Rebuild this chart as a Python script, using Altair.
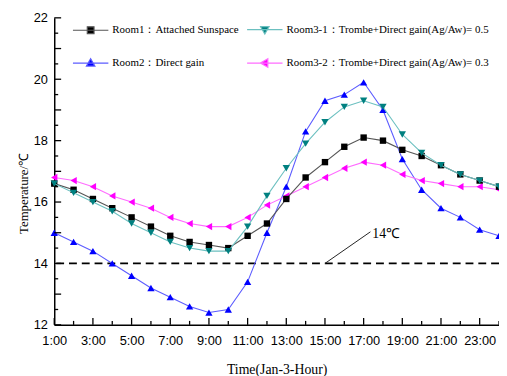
import altair as alt
import pandas as pd

# ---------------- data ----------------
hours = list(range(1, 25))
room1 = [16.6, 16.4, 16.1, 15.8, 15.5, 15.2, 14.9, 14.7, 14.6, 14.5, 14.9, 15.3,
         16.1, 16.8, 17.3, 17.8, 18.1, 18.0, 17.7, 17.5, 17.2, 16.9, 16.7, 16.5]
room2 = [15.0, 14.7, 14.4, 14.0, 13.6, 13.2, 12.9, 12.6, 12.4, 12.5, 13.4, 15.0,
         16.5, 18.3, 19.3, 19.5, 19.9, 19.0, 17.4, 16.4, 15.8, 15.5, 15.1, 14.9]
room3_1 = [16.6, 16.3, 16.0, 15.7, 15.3, 15.0, 14.7, 14.5, 14.4, 14.4, 15.2, 16.2,
           17.1, 17.9, 18.6, 19.1, 19.3, 19.1, 18.2, 17.6, 17.2, 16.9, 16.7, 16.5]
room3_2 = [16.8, 16.7, 16.5, 16.2, 16.0, 15.8, 15.5, 15.3, 15.2, 15.2, 15.5, 15.9,
           16.2, 16.5, 16.8, 17.1, 17.3, 17.2, 16.9, 16.7, 16.6, 16.5, 16.5, 16.4]

series_names = ["Room1：Attached Sunspace",
                "Room2：Direct gain",
                "Room3-1：Trombe+Direct gain(Ag/Aw)= 0.5",
                "Room3-2：Trombe+Direct gain(Ag/Aw)= 0.3"]
series_values = [room1, room2, room3_1, room3_2]
draw_order = [1, 3, 0, 2]  # Room2, Room3-2, Room1, Room3-1

marker_colors = ["#000000", "#0000ff", "#008080", "#ff00ff"]
line_colors = ["#555555", "#5c5cff", "#6cc0c0", "#ff6cff"]
marker_shapes = ["square", "triangle-up", "triangle-down", "triangle-left"]
marker_sizes = [42, 55, 55, 55]
legend_paths = [
    "M-1,0H1M-0.19,-0.19H0.19V0.19H-0.19Z",
    "M-1,0H1M0,-0.25L0.24,0.17H-0.24Z",
    "M-1,0H1M-0.24,-0.17H0.24L0,0.25Z",
    "M-1,0H1M-0.25,0L0.17,-0.24V0.24Z",
]

x_tick_major = list(range(1, 24, 2))
x_tick_minor = list(range(2, 25, 2))
y_tick_major = list(range(12, 23))
y_tick_minor = [v + 0.5 for v in range(12, 22)]

threshold = [14]
threshold_label = ["14℃"]
pointer_x = [15.0]
pointer_y = [14.0]
pointer_x2 = [17.35]
pointer_y2 = [15.03]
label_x = [17.45]
label_y = [14.97]

# ---------------- tables ----------------
rows = []
for k, (name, vals) in enumerate(zip(series_names, series_values)):
    for h, v in zip(hours, vals):
        rows.append({"sid": k, "series": name, "hour": h, "temp": v})
df = pd.DataFrame(rows)

xscale = alt.Scale(domain=[1, 24], nice=False, zero=False)
yscale = alt.Scale(domain=[12, 22], nice=False, zero=False)

x_axis = alt.Axis(values=x_tick_major, labelExpr="datum.value + ':00'", ticks=False,
                  grid=False, labelFlush=False, labelOverlap=False,
                  title="Time(Jan-3-Hour)", labelPadding=10, titlePadding=15)
y_axis = alt.Axis(values=y_tick_major, ticks=False, grid=False, format="d",
                  title="Temperature/℃", labelPadding=7, labelFlush=False,
                  titleX=-31, titleY=178, titleAngle=270, titleBaseline="middle",
                  titleAlign="center", titleFontSize=13)

layers = []

# threshold dashed line
thr = alt.Chart(pd.DataFrame({"v": threshold})).mark_rule(
    color="black", strokeDash=[8, 5], strokeWidth=1.8
).encode(y=alt.Y("v:Q", scale=yscale, axis=y_axis))
layers.append(thr)

# pointer + label
ptr = alt.Chart(pd.DataFrame({"x": pointer_x, "y": pointer_y, "x2": pointer_x2, "y2": pointer_y2})).mark_rule(
    color="#222222", strokeWidth=1
).encode(x=alt.X("x:Q", scale=xscale, axis=x_axis), y=alt.Y("y:Q", scale=yscale), x2="x2:Q", y2="y2:Q")
layers.append(ptr)
lbl = alt.Chart(pd.DataFrame({"x": label_x, "y": label_y, "t": threshold_label})).mark_text(
    align="left", baseline="middle", font="Liberation Serif", fontSize=14, color="black"
).encode(x=alt.X("x:Q", scale=xscale), y=alt.Y("y:Q", scale=yscale), text="t:N")
layers.append(lbl)

# series
for k in draw_order:
    base = alt.Chart(df).transform_filter(alt.datum.sid == k)
    ln = base.mark_line(color=line_colors[k], strokeWidth=1.1).encode(
        x=alt.X("hour:Q", scale=xscale), y=alt.Y("temp:Q", scale=yscale))
    pt = base.mark_point(shape=marker_shapes[k], filled=True, size=marker_sizes[k],
                         color=marker_colors[k], opacity=1).encode(
        x=alt.X("hour:Q", scale=xscale), y=alt.Y("temp:Q", scale=yscale))
    layers += [ln, pt]

# inward ticks
tick_style = dict(color="black", strokeWidth=1.3)
layers.append(alt.Chart(pd.DataFrame({"h": x_tick_major})).mark_rule(**tick_style).encode(
    x=alt.X("h:Q", scale=xscale), y=alt.value(312), y2=alt.value(305)))
layers.append(alt.Chart(pd.DataFrame({"h": x_tick_minor})).mark_rule(**tick_style).encode(
    x=alt.X("h:Q", scale=xscale), y=alt.value(312), y2=alt.value(308)))
layers.append(alt.Chart(pd.DataFrame({"t": y_tick_major})).mark_rule(**tick_style).encode(
    y=alt.Y("t:Q", scale=yscale), x=alt.value(0), x2=alt.value(7)))
layers.append(alt.Chart(pd.DataFrame({"t": y_tick_minor})).mark_rule(**tick_style).encode(
    y=alt.Y("t:Q", scale=yscale), x=alt.value(0), x2=alt.value(4)))

# legend (off-canvas marks carrying the legend)
leg = alt.Legend(title=None, orient="none", legendX=18, legendY=-7, columns=2,
                 symbolSize=1296, symbolStrokeWidth=1.2, labelFont="Liberation Serif",
                 labelFontSize=11.1, labelColor="black", labelOffset=3, columnPadding=5,
                 rowPadding=8, padding=0, labelLimit=400, symbolOpacity=1)
legdf = pd.DataFrame({"series": series_names})
legend_layer = alt.Chart(legdf).mark_point(filled=True, opacity=1, strokeWidth=1.2).encode(
    x=alt.value(-400), y=alt.value(-400),
    fill=alt.Fill("series:N", scale=alt.Scale(domain=series_names, range=marker_colors), legend=leg),
    stroke=alt.Stroke("series:N", scale=alt.Scale(domain=series_names, range=line_colors), legend=leg),
    shape=alt.Shape("series:N", scale=alt.Scale(domain=series_names, range=legend_paths), legend=leg),
)
layers.append(legend_layer)

chart = alt.layer(*layers).properties(
    width=452, height=312,
    autosize=alt.AutoSizeParams(type="none"),
    padding={"left": 47, "top": 7, "right": 0, "bottom": 49},
    background="white",
).configure_view(stroke=None).configure_axis(
    domainColor="black", domainWidth=1.5, labelFont="Liberation Sans", labelFontSize=13,
    labelColor="black", titleFont="Liberation Serif", titleFontSize=14,
    titleFontWeight="normal", titleColor="black",
)

chart.save("out.html", embed_options={"renderer": "svg", "actions": False})
